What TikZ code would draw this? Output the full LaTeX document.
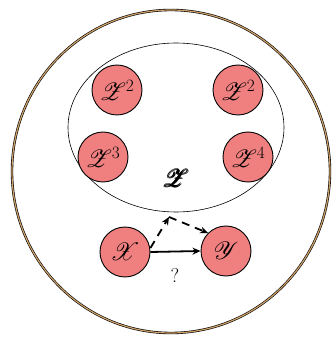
\documentclass[tikz,border=0pt]{standalone}
\usepackage{amsmath,amssymb}
\usepackage{mathrsfs}
\usetikzlibrary{arrows.meta,shapes.geometric}
\definecolor{nodefill}{RGB}{240,128,128}
\definecolor{ringtan}{RGB}{205,160,105}
\tikzset{
  var/.style={circle, draw=black, fill=nodefill, line width=0.9pt, minimum size=50pt, inner sep=0pt, font=\fontsize{24}{28}\selectfont},
  solidarrow/.style={-{Stealth[length=8pt,width=7pt]}, line width=1.8pt},
  dasharrow/.style={-{Stealth[length=8pt,width=7pt]}, line width=1.8pt, dash pattern=on 8pt off 6pt},
}
\begin{document}
\begin{tikzpicture}[x=1pt,y=1pt]
\useasboundingbox (0,0) rectangle (332,338);
% outer ring
\draw[line width=0.6pt, double=ringtan, double distance=1.2pt] (171,166.5) ellipse [x radius=159, y radius=161.5];
% inner ellipse
\node[draw, ellipse, line width=0.6pt, minimum width=216pt, minimum height=169pt, inner sep=0pt] (zset) at (176,210.5) {};
\node[var] (z2a) at (117,248) {$\mathscr{Z}^2$};
\node[var] (z2b) at (238,248) {$\mathscr{Z}^2$};
\node[var] (z3) at (103,181) {$\mathscr{Z}^3$};
\node[var] (z4) at (248,181) {$\mathscr{Z}^4$};
\node[font=\fontsize{28}{32}\selectfont] (zlab) at (176,160) {$\pmb{\mathscr{Z}}$};
\node[var] (x) at (125,86) {$\mathscr{X}$};
\node[var] (y) at (226,87) {$\mathscr{Y}$};
\coordinate (apex) at (169,121);
\draw[solidarrow] (x.east) -- (y.west);
\draw[dasharrow] ([yshift=4pt]x.east) -- (apex);
\draw[dasharrow] (apex) -- (y.north west);
\node[font=\fontsize{20}{24}\selectfont] (q) at (175,63) {?};
\end{tikzpicture}
\end{document}
